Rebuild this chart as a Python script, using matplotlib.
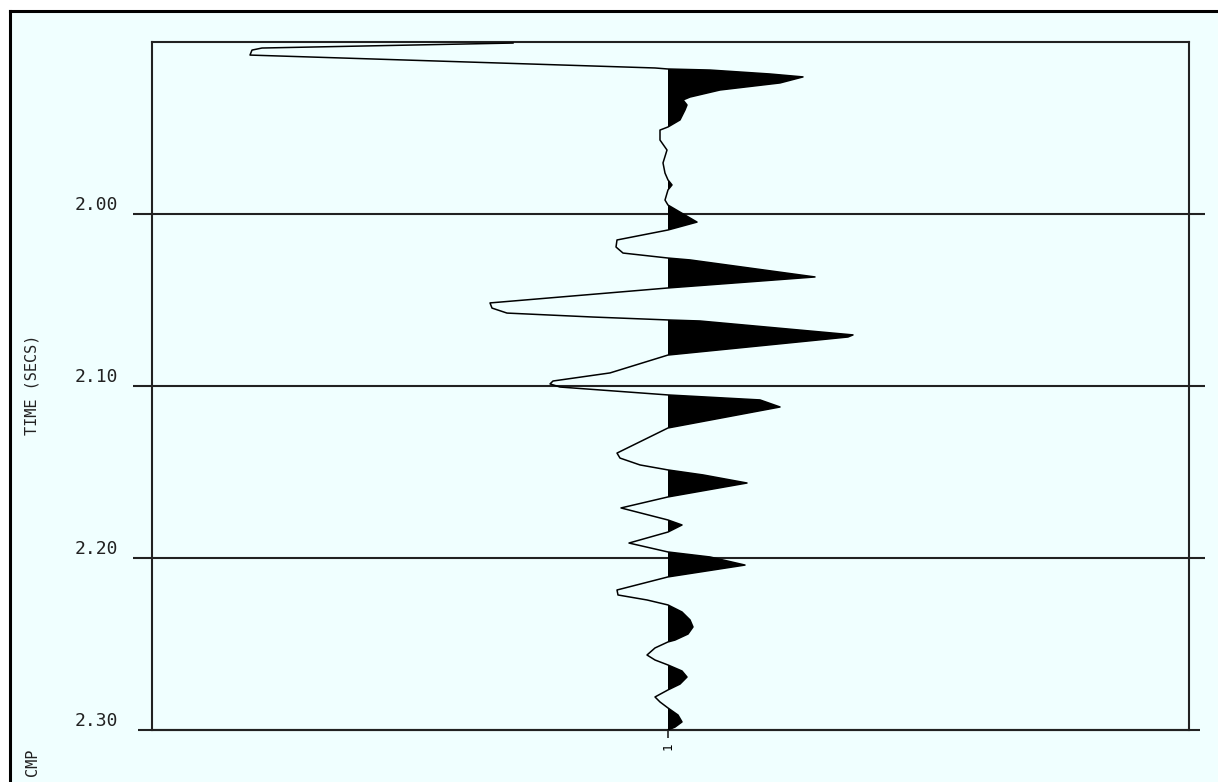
import numpy as np
import matplotlib
matplotlib.use("Agg")
import matplotlib.pyplot as plt
from matplotlib.patches import Rectangle
from matplotlib.lines import Line2D

# ---- data (trace 1) ----
times = np.array([
    1.9006, 1.9035, 1.9047, 1.9076, 1.9151, 1.9157, 1.9163, 1.9186, 1.9203, 1.9238,
    1.9279, 1.9320, 1.9337, 1.9366, 1.9395, 1.9453, 1.9494, 1.9512, 1.9570, 1.9628,
    1.9703, 1.9762, 1.9802, 1.9831, 1.9860, 1.9919, 1.9948, 2.0047, 2.0093, 2.0151,
    2.0192, 2.0227, 2.0256, 2.0267, 2.0366, 2.0430, 2.0517, 2.0547, 2.0576, 2.0599,
    2.0616, 2.0622, 2.0703, 2.0715, 2.0820, 2.0924, 2.0971, 2.0988, 2.1006, 2.1052,
    2.1081, 2.1122, 2.1244, 2.1390, 2.1419, 2.1459, 2.1488, 2.1517, 2.1564, 2.1645,
    2.1709, 2.1779, 2.1808, 2.1849, 2.1913, 2.1965, 2.1994, 2.2041, 2.2110, 2.2186,
    2.2215, 2.2244, 2.2273, 2.2314, 2.2360, 2.2401, 2.2442, 2.2477, 2.2488, 2.2523,
    2.2564, 2.2593, 2.2622, 2.2657, 2.2692, 2.2733, 2.2767, 2.2808, 2.2837, 2.2872,
    2.2913, 2.2953, 2.2983, 2.3000])
amplitudes = np.array([
    -155, -406, -416, -418, -13, 0, 42, 102, 135, 112,
    52, 22, 15, 19, 17, 12, 0, -8, -8, -1,
    -5, -3, 0, 4, 0, -3, 0, 29, 0, -51,
    -52, -45, 0, 22, 147, 0, -178, -176, -161, -75,
    0, 32, 185, 180, 0, -58, -115, -118, -108, 0,
    92, 112, 0, -51, -48, -28, 0, 35, 79, 0,
    -47, 0, 14, 0, -39, 0, 42, 77, 0, -51,
    -50, -21, 0, 14, 22, 25, 20, 7, 0, -13,
    -21, -13, 0, 14, 19, 12, 0, -13, -8, 0,
    10, 14, 7, 0], dtype=float)

trace_positions = [0]
trace_labels = ["1"]
time_ticks = [2.00, 2.10, 2.20, 2.30]
time_tick_labels = ["2.00", "2.10", "2.20", "2.30"]
grid_times = [2.00, 2.10, 2.20]

W, H = 1218, 782
BG = "#F0FFFF"
fig = plt.figure(figsize=(W / 100, H / 100), dpi=100)
fig.patch.set_facecolor("white")

# page background and frame
fig.add_artist(Rectangle((9.7 / W, 0), 1, 1 - 10.5 / H, transform=fig.transFigure,
                         facecolor=BG, edgecolor="none", zorder=0))
fig.add_artist(Line2D([9.7 / W, 9.7 / W], [0, 1 - 10.5 / H], transform=fig.transFigure,
                      color="black", lw=2.2, solid_capstyle="projecting"))
fig.add_artist(Line2D([9.7 / W, 1], [1 - 10.5 / H, 1 - 10.5 / H], transform=fig.transFigure,
                      color="black", lw=2.2, solid_capstyle="projecting"))

left, right, top, bottom = 152, 1189, 42, 730
ax = fig.add_axes([left / W, 1 - bottom / H, (right - left) / W, (bottom - top) / H])
ax.set_facecolor(BG)
ax.set_xlim(-516, 521)
ax.set_ylim(2.30, 1.90)

for s in ax.spines.values():
    s.set_linewidth(1.5)
    s.set_color("#222222")

# horizontal time lines extending past the frame
ax.hlines(grid_times, -535, 537, colors="#222222", lw=1.5, clip_on=False, zorder=3)
ax.hlines([2.30], -530, 532, colors="#222222", lw=1.5, clip_on=False, zorder=3)

# wiggle trace with filled positive lobes
ax.fill_betweenx(times, 0, amplitudes, where=amplitudes >= 0, interpolate=True,
                 color="black", lw=0, zorder=4)
ax.plot(amplitudes, times, color="black", lw=1.1, zorder=5)

mono = "DejaVu Sans Mono"
ax.set_yticks(time_ticks)
ax.set_yticklabels(time_tick_labels, fontsize=13, family=mono, color="#222222")
ax.tick_params(axis="y", length=0, pad=24.5)
for lab in ax.get_yticklabels():
    lab.set_verticalalignment("bottom")

ax.set_xticks(trace_positions)
ax.set_xticklabels(trace_labels, rotation=90, fontsize=9, family=mono)
ax.tick_params(axis="x", direction="out", length=6, width=1.2, pad=3, color="#222222")

fig.text(32 / W, 1 - 385 / H, "TIME (SECS)", rotation=90, ha="center", va="center",
         fontsize=11, family=mono, color="#222222")
fig.text(33 / W, 1 - 762 / H, "CMP", rotation=90, ha="center", va="center",
         fontsize=11, family=mono, color="#222222")

fig.savefig("out.png", dpi=100, facecolor=fig.get_facecolor())
